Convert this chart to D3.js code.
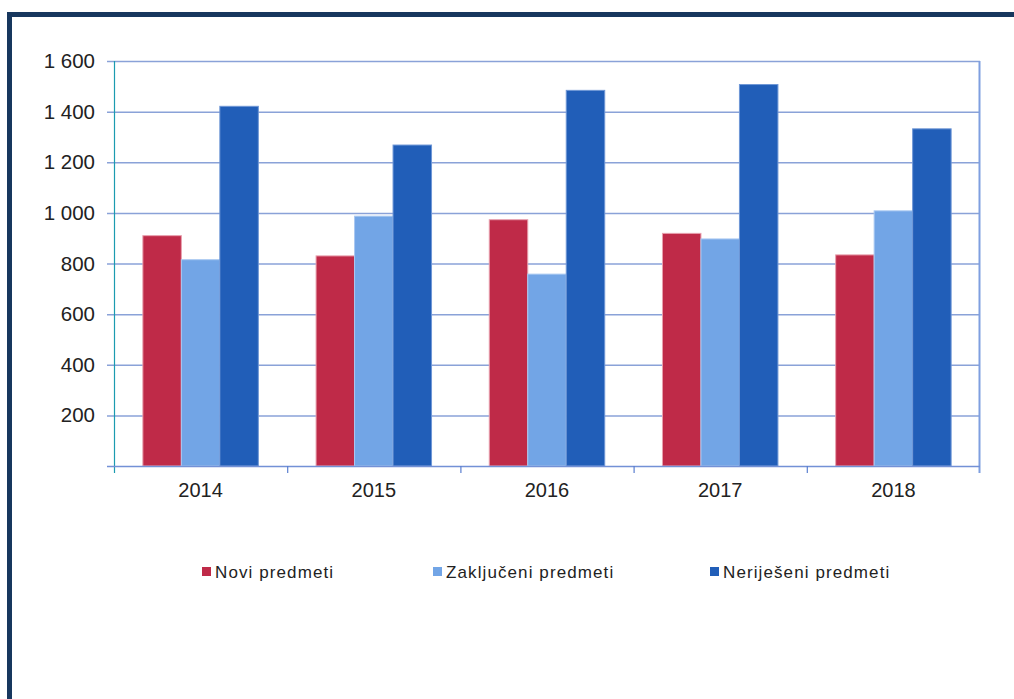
<!DOCTYPE html>
<html lang="hr">
<head>
  <meta charset="UTF-8">
  <title>Predmeti 2014-2018</title>
  <style>
    body { margin: 0; background: #fff; }
    text { font-family: "Liberation Sans", Arial, sans-serif; fill: #222; }
  </style>
</head>
<body>
  <script src="https://cdn.jsdelivr.net/npm/d3@7/dist/d3.min.js"></script>
  <script>
    // podaci
    let years = ['2014', '2015', '2016', '2017', '2018'];
    let seriesNames = ['Novi predmeti', 'Zaključeni predmeti', 'Neriješeni predmeti'];
    let novi = [910, 830, 973, 919, 834];
    let zakljuceni = [815, 987, 758, 897, 1008];
    let nerijeseni = [1421, 1268, 1484, 1507, 1332];
    let yTicks = [200, 400, 600, 800, 1000, 1200, 1400, 1600];
    let colors = ['#bf2a48', '#72a5e6', '#215eb8'];
    let edges = ['#e8a0ae', '#a9c8f1', '#6f97d6'];

    let width = 1014;
    let height = 699;
    let svg = d3.select('body')
                .append('svg')
                .attr('width', width)
                .attr('height', height);

    // okvir
    svg.append('path')
       .attr('d', 'M9.5,' + height + ' V14.5 H' + width)
       .attr('fill', 'none')
       .attr('stroke', '#17375e')
       .attr('stroke-width', 5);

    let plotLeft = 114, plotRight = 980, plotTop = 61, plotBottom = 466;

    let x = d3.scaleBand()
              .domain(years)
              .range([plotLeft, plotRight]);
    let xInner = d3.scaleBand()
                   .domain(d3.range(seriesNames.length))
                   .range([0, x.bandwidth()])
                   .paddingOuter(0.75);
    let y = d3.scaleLinear()
              .domain([0, 1600])
              .range([plotBottom, plotTop]);

    // mreža
    svg.append('g')
       .selectAll('line')
       .data(yTicks)
       .enter()
       .append('line')
       .attr('x1', plotLeft - 7)
       .attr('x2', plotRight)
       .attr('y1', d => y(d) + 0.5)
       .attr('y2', d => y(d) + 0.5)
       .attr('stroke', '#8aa2d8')
       .attr('stroke-width', 1.5);

    // stupci
    let data = [novi, zakljuceni, nerijeseni];
    data.forEach(function(values, s) {
      svg.append('g')
         .selectAll('rect')
         .data(values)
         .enter()
         .append('rect')
         .attr('x', (d, i) => x(years[i]) + xInner(s))
         .attr('y', d => y(d))
         .attr('width', xInner.bandwidth())
         .attr('height', d => plotBottom - y(d))
         .attr('fill', colors[s])
         .attr('stroke', edges[s])
         .attr('stroke-width', 1);
    });

    // osi
    let yAxis = d3.axisLeft(y)
                  .tickValues(yTicks)
                  .tickSize(0)
                  .tickPadding(19)
                  .tickFormat(d => d3.format(',')(d).replace(',', ' '));
    let gy = svg.append('g')
       .attr('transform', 'translate(' + plotLeft + ',0)')
       .call(yAxis);
    gy.select('.domain').remove();
    gy.selectAll('text')
      .attr('font-size', 20.5)
      .attr('fill', '#111');

    svg.append('line')
       .attr('x1', plotLeft + 0.5).attr('x2', plotLeft + 0.5)
       .attr('y1', plotTop).attr('y2', plotBottom + 7)
       .attr('stroke', '#1b9bb0').attr('stroke-width', 1.2);
    svg.append('line')
       .attr('x1', plotRight - 0.5).attr('x2', plotRight - 0.5)
       .attr('y1', plotTop).attr('y2', plotBottom + 7)
       .attr('stroke', '#7f9fe0').attr('stroke-width', 2);

    let xAxis = d3.axisBottom(x)
                  .tickSize(0)
                  .tickPadding(17);
    let gx = svg.append('g')
       .attr('transform', 'translate(0,' + plotBottom + ')')
       .call(xAxis);
    gx.select('.domain').remove();
    gx.selectAll('text')
      .attr('font-size', 20)
      .attr('fill', '#111');

    svg.append('line')
       .attr('x1', plotLeft - 7).attr('x2', plotRight)
       .attr('y1', plotBottom + 0.5).attr('y2', plotBottom + 0.5)
       .attr('stroke', '#7391d6').attr('stroke-width', 1.5);
    svg.append('g')
       .selectAll('line')
       .data(years.slice(1))
       .enter()
       .append('line')
       .attr('x1', d => x(d) + 0.5)
       .attr('x2', d => x(d) + 0.5)
       .attr('y1', plotBottom)
       .attr('y2', plotBottom + 7)
       .attr('stroke', '#5a7fd0')
       .attr('stroke-width', 1.2);

    // legenda
    let legendX = [202, 433, 710];
    let legend = svg.append('g')
                    .selectAll('g')
                    .data(seriesNames)
                    .enter()
                    .append('g')
                    .attr('transform', (d, i) => 'translate(' + legendX[i] + ',567)');
    legend.append('rect')
          .attr('width', 9)
          .attr('height', 9)
          .attr('fill', (d, i) => colors[i]);
    legend.append('text')
          .attr('x', 13)
          .attr('y', 10.5)
          .attr('font-size', 17)
          .attr('letter-spacing', 1.1)
          .attr('fill', '#111')
          .text(d => d);
  </script>
</body>
</html>
